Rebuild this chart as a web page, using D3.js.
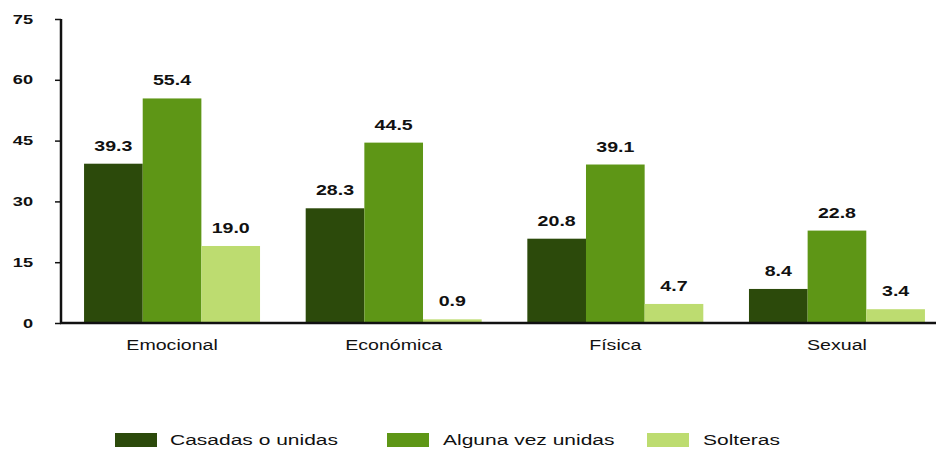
<!DOCTYPE html>
<html>
<head>
<meta charset="utf-8">
<script src="https://cdn.jsdelivr.net/npm/d3@7"></script>
<style>
  body { margin: 0; background: #fff; }
  text { font-family: "Liberation Sans", Arial, sans-serif; fill: #111; }
</style>
</head>
<body>
<svg id="drawing-area"></svg>
<script>
var categories = ["Emocional", "Económica", "Física", "Sexual"];
var seriesNames = ["Casadas o unidas", "Alguna vez unidas", "Solteras"];
var casadas = [39.3, 28.3, 20.8, 8.4];
var alguna = [55.4, 44.5, 39.1, 22.8];
var solteras = [19.0, 0.9, 4.7, 3.4];
var yTicks = [0, 15, 30, 45, 60, 75];
var colors = ["#2c4a0b", "#5e9616", "#bddc70"];

var width = 938;
var height = 449;
var plotLeft = 61;
var plotBottom = 323;
var plotTop = 19;
var stretch = 1.4; // the scanned chart is wider than tall

var series = [casadas, alguna, solteras];
var rows = [];
categories.forEach(function(c, i){
    series.forEach(function(s, j){
        rows.push({cat: c, key: seriesNames[j], value: s[i], idx: j});
    });
});

var svg = d3.select("#drawing-area")
    .attr("width", width)
    .attr("height", height);

var xScale = d3.scaleBand()
    .domain(categories)
    .range([plotLeft, 948])
    .paddingInner(0.206)
    .paddingOuter(0.104);

var xInner = d3.scaleBand()
    .domain(seriesNames)
    .range([0, xScale.bandwidth()]);

var yScale = d3.scaleLinear()
    .domain([0, 75])
    .range([plotBottom, plotTop]);

// bars
svg.selectAll(".bar")
    .data(rows)
    .enter()
    .append("rect")
    .attr("class", "bar")
    .attr("x", function(d){ return xScale(d.cat) + xInner(d.key); })
    .attr("y", function(d){ return yScale(d.value); })
    .attr("width", xInner.bandwidth())
    .attr("height", function(d){ return plotBottom - yScale(d.value); })
    .attr("fill", function(d){ return colors[d.idx]; });

// value labels
svg.selectAll(".val")
    .data(rows)
    .enter()
    .append("text")
    .attr("class", "val")
    .attr("transform", function(d){
        var cx = xScale(d.cat) + xInner(d.key) + xInner.bandwidth()/2;
        return "translate(" + cx + "," + (yScale(d.value) - 13) + ") scale(" + stretch + ",1)";
    })
    .attr("text-anchor", "middle")
    .style("font-size", "14px")
    .style("font-weight", "bold")
    .text(function(d){ return d.value.toFixed(1); });

// y axis
var yAxis = d3.axisLeft(yScale)
    .tickValues(yTicks)
    .tickSize(6);

var gy = svg.append("g")
    .attr("transform", "translate(" + plotLeft + ",0)")
    .call(yAxis);
gy.select(".domain").remove();
gy.selectAll(".tick line").attr("stroke", "#111").attr("stroke-width", 1.5);
gy.selectAll(".tick text")
    .attr("x", -28 / stretch)
    .attr("transform", "scale(" + stretch + ",1)")
    .style("font-size", "13px")
    .style("font-weight", "bold")
    .style("font-family", "'Liberation Sans', Arial, sans-serif")
    .attr("fill", "#111");

svg.append("line")
    .attr("x1", plotLeft).attr("x2", plotLeft)
    .attr("y1", plotTop).attr("y2", plotBottom)
    .attr("stroke", "#111").attr("stroke-width", 2.5);

// x axis
var xAxis = d3.axisBottom(xScale).tickSize(0).tickPadding(17);
var gx = svg.append("g")
    .attr("transform", "translate(0," + plotBottom + ")")
    .call(xAxis);
gx.select(".domain").remove();
gx.selectAll(".tick text")
    .attr("transform", "scale(" + stretch + ",1)")
    .style("font-size", "14px")
    .style("font-family", "'Liberation Sans', Arial, sans-serif")
    .attr("fill", "#111");

svg.append("line")
    .attr("x1", plotLeft - 1).attr("x2", 936)
    .attr("y1", plotBottom).attr("y2", plotBottom)
    .attr("stroke", "#111").attr("stroke-width", 2.5);

// legend
var legendX = [115, 387, 647];
var leg = svg.selectAll(".leg")
    .data(seriesNames)
    .enter()
    .append("g")
    .attr("class", "leg")
    .attr("transform", function(d, i){ return "translate(" + legendX[i] + ",433)"; });
leg.append("rect")
    .attr("width", 42)
    .attr("height", 14)
    .attr("fill", function(d, i){ return colors[i]; });
leg.append("text")
    .attr("transform", function(d, i){
        return "translate(" + (i == 0 ? 55 : 56) + ",12) scale(" + stretch + ",1)";
    })
    .style("font-size", "15px")
    .text(function(d){ return d; });
</script>
</body>
</html>
